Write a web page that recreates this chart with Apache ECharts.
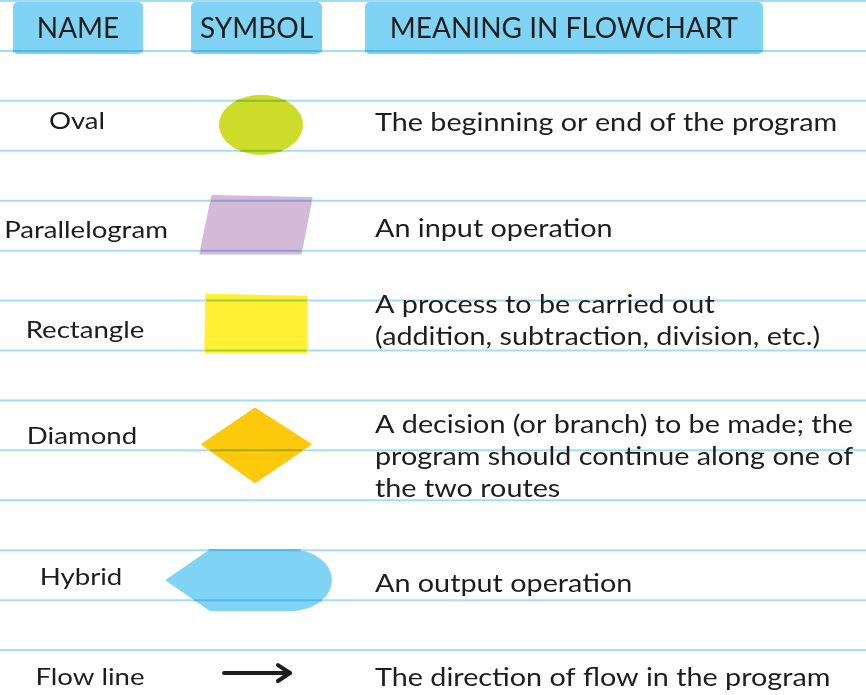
<!DOCTYPE html>
<html><head><meta charset="utf-8">
<script src="https://cdn.jsdelivr.net/npm/echarts@6/dist/echarts.min.js"></script>
<style>html,body{margin:0;padding:0;background:#fff}#c{width:866px;height:695px}</style>
</head><body><div id="c"></div>
<script>
// ---- data ----
const headers = ['NAME', 'SYMBOL', 'MEANING IN FLOWCHART'];
const names = ['Oval', 'Parallelogram', 'Rectangle', 'Diamond', 'Hybrid', 'Flow line'];
const symbols = ['oval', 'parallelogram', 'rectangle', 'diamond', 'hybrid', 'flowline'];
const meanings = [
  'The beginning or end of the program',
  'An input operation',
  'A process to be carried out\n(addition, subtraction, division, etc.)',
  'A decision (or branch) to be made; the\nprogram should continue along one of\nthe two routes',
  'An output operation',
  'The direction of flow in the program'
];
// row centres, measured in ruled-line units (one unit = distance between two ruled lines)
const rowLines = [2.48, 4.48, 6.48, 8.9, 11.6, 13.46];
// ruled lines of the notebook paper
const rules = [0, 1, 2, 3, 4, 5, 6, 7, 8, 9, 10, 11, 12, 13];

// ---- layout & styles (kept apart from the data) ----
const layout = {
  nameX: 84, symbolX: 256, meaningX: 375,
  headerCols: [[13, 143], [191, 322], [365, 763]],
  headerTop: 0.02, headerBottom: 1.06, headerTextY: 0.56,
  nameShift: [[-7, -4], [2, 6], [1, 6], [-2, -9], [-3, -3], [6, 4]],
  meaningShift: [-2, 4, -4, 12, 4, 5],
  textScaleX: 1.15
};
const font = 'Lato';
const inkColor = '#1d1d1d';
const ruleColor = '#a6dcf2';
const headerFill = '#7fd3f5';
const symbolFill = {
  oval: '#cddc29', parallelogram: '#d4b9d9', rectangle: '#fff034',
  diamond: '#fec80b', hybrid: '#7fd3f5'
};
// symbol geometry in pixels at a 50px ruled-line spacing, relative to the symbol centre
const geom = {
  oval: { dx: 5, rx: 42, ry: 30 },
  parallelogram: [[-44, -29], [56, -27], [45, 29], [-56, 29]],
  rectangle: [[-50, -30], [51, -28], [51, 28], [-51, 28]],
  diamond: [[-1, -37], [55, -1], [-1, 37], [-54, -1]],
  hybrid: { left: -85, flatL: -40, flatR: 40, rx: 42, ry: 31, dx: -6 },
  flowline: { x0: -32, x1: 34, head: 12, wing: 8 }
};

// highlighter ink multiplied with the ruled line colour (where a rule runs through a mark)
function multiply(a, b) {
  const p = h => [1, 3, 5].map(k => parseInt(h.substr(k, 2), 16));
  const A = p(a), B = p(b);
  return 'rgb(' + A.map((v, k) => Math.round(v * B[k] / 255)).join(',') + ')';
}
// horizontal extent of a polygon at height y
function spanAt(pts, y) {
  const xs = [];
  for (let k = 0; k < pts.length; k++) {
    const p = pts[k], q = pts[(k + 1) % pts.length];
    if (p[1] === q[1]) continue;
    if ((p[1] - y) * (q[1] - y) <= 0) xs.push(p[0] + (y - p[1]) * (q[0] - p[0]) / (q[1] - p[1]));
  }
  return xs.length >= 2 ? [Math.min.apply(null, xs), Math.max.apply(null, xs)] : null;
}
function ruleOverlays(pts, fill, ruleYs) {
  const col = multiply(fill, ruleColor);
  const out = [];
  ruleYs.forEach(y => {
    const sp = spanAt(pts, y);
    if (sp && sp[1] - sp[0] > 1) out.push({ type: 'line', shape: { x1: sp[0], y1: y, x2: sp[1], y2: y },
      style: { stroke: col, lineWidth: 2 } });
  });
  return out;
}

function symbolPoints(kind, cx, cy, s) {
  const mk = pts => pts.map(p => [cx + p[0] * s, cy + p[1] * s]);
  if (kind === 'oval') {
    const g = geom.oval, pts = [];
    for (let k = 0; k < 72; k++) {
      const a = 2 * Math.PI * k / 72;
      pts.push([g.dx + g.rx * Math.cos(a), g.ry * Math.sin(a)]);
    }
    return mk(pts);
  }
  if (kind === 'hybrid') {
    const g = geom.hybrid;
    const pts = [[g.left, 0], [g.flatL, -g.ry], [g.flatR, -g.ry]];
    for (let k = 1; k < 40; k++) {
      const a = -Math.PI / 2 + Math.PI * k / 40;
      pts.push([g.flatR + g.rx * Math.cos(a), g.ry * Math.sin(a)]);
    }
    pts.push([g.flatR, g.ry], [g.flatL, g.ry]);
    return mk(pts.map(p => [p[0] + g.dx, p[1]]));
  }
  return mk(geom[kind]);
}

function symbolShape(kind, cx, cy, s, ruleYs) {
  if (kind === 'flowline') {
    const g = geom.flowline;
    const mk = pts => pts.map(p => [cx + p[0] * s, cy + p[1] * s]);
    return { type: 'group', children: [
      { type: 'line', shape: { x1: cx + g.x0 * s, y1: cy, x2: cx + g.x1 * s, y2: cy },
        style: { stroke: inkColor, lineWidth: 4, lineCap: 'round' } },
      { type: 'polyline', shape: { points: mk([[g.x1 - g.head, -g.wing], [g.x1, 0], [g.x1 - g.head, g.wing]]) },
        style: { stroke: inkColor, lineWidth: 4, lineCap: 'round', lineJoin: 'round', fill: null } }
    ] };
  }
  const fill = symbolFill[kind];
  const pts = symbolPoints(kind, cx, cy, s);
  const rounded = kind === 'parallelogram' || kind === 'rectangle' || kind === 'diamond';
  return { type: 'group', children: [
    { type: 'polygon', shape: { points: pts },
      style: rounded ? { fill: fill, stroke: fill, lineWidth: 1.5, lineJoin: 'round' } : { fill: fill } }
  ].concat(ruleOverlays(pts, fill, ruleYs)) };
}

function textEl(str, x, y, align, size, extra) {
  return { type: 'text', x: x, y: y, scaleX: layout.textScaleX,
    style: Object.assign({ text: str, x: 0, y: 0, align: align, verticalAlign: 'middle',
      fill: inkColor, font: size + 'px ' + font }, extra || {}) };
}

const chart = echarts.init(document.getElementById('c'), null, { renderer: 'canvas' });
chart.setOption({
  animation: false,
  backgroundColor: '#ffffff',
  grid: { left: 0, right: 0, top: 1, height: 695 },
  xAxis: { type: 'value', min: 0, max: 866, show: false },
  yAxis: { type: 'value', min: 0, max: 13.9, inverse: true, show: false },
  series: [
    { // ruled lines of the paper
      type: 'custom', name: 'rules', silent: true, z: 0,
      data: rules.map(r => [0, r]),
      renderItem(params, api) {
        const a = api.coord([0, api.value(1)]);
        const b = api.coord([866, api.value(1)]);
        return { type: 'line', shape: { x1: a[0], y1: a[1], x2: b[0], y2: b[1] },
          style: { stroke: ruleColor, lineWidth: 2 } };
      }
    },
    { // header boxes
      type: 'custom', name: 'headerBoxes', silent: true, z: 1,
      data: headers.map((h, i) => [i, 0]),
      renderItem(params, api) {
        const col = layout.headerCols[params.dataIndex];
        const p0 = api.coord([col[0], layout.headerTop]);
        const p1 = api.coord([col[1], layout.headerBottom]);
        const pts = [[p0[0], p0[1]], [p1[0], p0[1]], [p1[0], p1[1]], [p0[0], p1[1]]];
        const ruleYs = rules.map(r => api.coord([0, r])[1]);
        return { type: 'group', children: [
          { type: 'rect', shape: { x: p0[0], y: p0[1], width: p1[0] - p0[0], height: p1[1] - p0[1], r: 5 },
            style: { fill: headerFill } }
        ].concat(ruleOverlays(pts.map(p => [p[0], p[1]]), headerFill, ruleYs.filter(y => y > p0[1] + 2))) };
      }
    },
    { // symbols
      type: 'custom', name: 'symbols', silent: true, z: 1,
      data: rowLines.map((r, i) => [i, r]),
      renderItem(params, api) {
        const i = params.dataIndex;
        const s = api.size([0, 1])[1] / 50;
        const c = api.coord([layout.symbolX, api.value(1)]);
        const ruleYs = rules.map(r => api.coord([0, r])[1]);
        return symbolShape(symbols[i], c[0], c[1], s, ruleYs);
      }
    },
    { // texts
      type: 'custom', name: 'texts', silent: true, z: 3,
      data: rowLines.map((r, i) => [i, r]),
      renderItem(params, api) {
        const i = params.dataIndex;
        const y = api.value(1);
        const pn = api.coord([layout.nameX, y]);
        const pm = api.coord([layout.meaningX, y]);
        const ns = layout.nameShift[i];
        return { type: 'group', children: [
          textEl(names[i], pn[0] + ns[0], pn[1] + ns[1], 'center', 24),
          textEl(meanings[i], pm[0], pm[1] + layout.meaningShift[i], 'left', 25, { lineHeight: 32 })
        ] };
      }
    },
    { // header texts
      type: 'custom', name: 'headerTexts', silent: true, z: 3,
      data: headers.map((h, i) => [i, 0]),
      renderItem(params, api) {
        const col = layout.headerCols[params.dataIndex];
        const pt = api.coord([(col[0] + col[1]) / 2, layout.headerTextY]);
        return { type: 'text', x: pt[0], y: pt[1],
          style: { text: headers[params.dataIndex], x: 0, y: 0, align: 'center', verticalAlign: 'middle',
            fill: inkColor, font: '28px ' + font } };
      }
    }
  ]
});
</script></body></html>
